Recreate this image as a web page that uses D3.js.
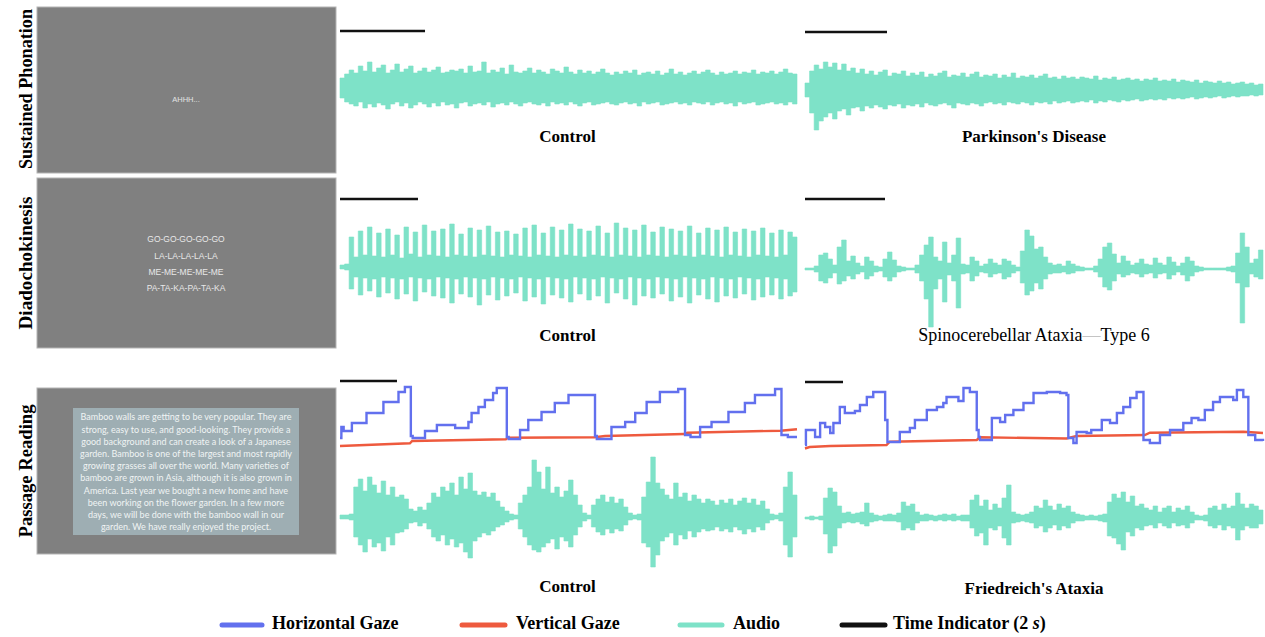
<!DOCTYPE html>
<html><head><meta charset="utf-8">
<script src="https://cdn.jsdelivr.net/npm/d3@7"></script>
<style>body{margin:0;background:#fff}svg{display:block}</style>
</head><body><svg id="c" width="1265" height="637"></svg>
<script>
// ---------------- DATA ----------------
const rowLabels = ["Sustained Phonation", "Diadochokinesis", "Passage Reading"];
const panelTitles = ["Control", "Parkinson's Disease", "Control", "Spinocerebellar Ataxia\u2014Type 6", "Control", "Friedreich's Ataxia"];
const durations = [10.75, 11.17, 11.72, 11.45, 16.04, 24.1]; // seconds shown per panel
const timeIndicator = 2; // seconds
const legendLabels = ["Horizontal Gaze", "Vertical Gaze", "Audio", "Time Indicator (2 s)"];
const phonationPrompt = ["AHHH..."];
const ddkPrompt = ["GO-GO-GO-GO-GO", "LA-LA-LA-LA-LA", "ME-ME-ME-ME-ME", "PA-TA-KA-PA-TA-KA"];
const passageLines = [
  "Bamboo walls are getting to be very popular. They are",
  "strong, easy to use, and good-looking. They provide a",
  "good background and can create a look of a Japanese",
  "garden.  Bamboo is one of the largest and most rapidly",
  "growing grasses all over the world.  Many varieties of",
  "bamboo are grown in Asia, although it is also grown in",
  "America.  Last year we bought a new home and have",
  "been working on the flower garden.  In a few more",
  "days, we will be done with the bamboo wall in our",
  "garden.  We have really enjoyed the project."
];

// audio envelopes (upper / lower amplitude per sample)
const spControlHi = [12,16,20,17,24,19,28,18,22,25,17,20,26,18,21,24,17,19,22,18,20,23,17,18,20,19,21,17,24,18,19,28,17,20,18,22,16,25,18,17,19,22,17,20,18,16,21,19,17,23,18,16,20,17,19,16,18,21,17,15,18,16,19,17,20,15,17,18,16,19,15,17,21,16,18,15,17,19,16,18,20,17,15,18,16,17,19,16,18,17,20,16,18,17,19,16,18,21,17,16];
const spControlLo = [-8,-12,-14,-16,-12,-18,-14,-17,-13,-15,-19,-14,-12,-16,-13,-18,-15,-12,-14,-17,-13,-16,-12,-15,-14,-18,-13,-12,-16,-14,-13,-15,-12,-17,-14,-13,-15,-12,-14,-16,-13,-12,-14,-15,-13,-16,-12,-14,-13,-15,-12,-14,-16,-13,-12,-15,-14,-13,-12,-14,-15,-13,-12,-14,-13,-16,-12,-14,-13,-12,-15,-14,-13,-12,-14,-13,-15,-12,-13,-14,-12,-15,-13,-12,-14,-13,-16,-12,-14,-13,-12,-15,-14,-13,-12,-14,-13,-15,-12,-14];
const spPDHi = [8,20,26,22,29,24,28,21,27,20,23,18,22,17,20,16,19,21,15,18,17,20,15,18,16,19,14,17,15,18,20,14,16,15,18,14,17,19,14,16,15,17,13,16,14,18,13,15,14,16,13,15,17,13,14,12,15,13,14,12,14,13,12,15,11,13,12,14,11,12,13,11,12,10,12,11,13,10,11,10,12,9,11,10,9,11,8,10,9,8,10,8,9,7,8,9,7,8,6,7];
const spPDLo = [-6,-22,-39,-30,-26,-22,-28,-20,-18,-24,-17,-16,-20,-15,-17,-14,-16,-18,-14,-15,-13,-17,-14,-15,-13,-16,-12,-14,-15,-13,-12,-14,-17,-12,-13,-14,-12,-13,-15,-12,-11,-13,-12,-14,-11,-12,-13,-11,-12,-14,-11,-12,-11,-13,-10,-12,-11,-10,-12,-11,-10,-11,-9,-12,-10,-11,-9,-10,-11,-9,-10,-9,-8,-10,-9,-8,-9,-8,-9,-7,-8,-7,-8,-7,-6,-8,-7,-6,-7,-6,-5,-7,-6,-5,-6,-5,-5,-4,-5,-4];
const ddkControlHi = [2,3,30,10,36,12,40,11,34,10,38,12,32,9,40,13,35,10,42,12,36,11,38,10,43,12,33,11,39,10,37,12,41,11,35,10,36,12,33,11,39,10,42,12,34,11,40,10,37,12,43,11,38,10,36,12,41,11,34,10,44,12,39,11,37,10,42,12,35,11,40,10,38,12,36,11,41,10,34,12,39,11,37,10,40,12,35,11,38,10,36,12,39,11,34,10,37,12,35,30];
const ddkControlLo = [-2,-3,-22,-10,-28,-11,-24,-12,-30,-10,-26,-11,-32,-12,-27,-10,-34,-11,-25,-12,-29,-10,-31,-11,-36,-12,-27,-10,-30,-11,-38,-12,-28,-10,-33,-11,-29,-12,-26,-10,-34,-11,-30,-12,-37,-10,-28,-11,-31,-12,-35,-10,-27,-11,-33,-12,-29,-10,-36,-11,-26,-12,-32,-10,-38,-11,-29,-12,-31,-10,-27,-11,-34,-12,-30,-10,-36,-11,-28,-12,-32,-10,-35,-11,-29,-12,-31,-10,-27,-11,-33,-12,-30,-10,-28,-11,-32,-12,-29,-25];
const ddkSCAHi = [1,1,3,14,16,10,4,22,29,8,13,6,3,12,8,3,2,10,17,9,3,2,1,1,4,14,24,32,12,8,27,6,14,31,5,4,12,8,3,5,10,6,4,10,8,4,2,18,39,33,20,22,12,6,4,5,3,8,5,3,2,1,1,3,10,22,26,15,6,13,8,4,6,10,5,4,11,6,4,12,7,3,6,12,8,3,2,1,1,1,1,1,2,3,16,36,22,6,10,19];
const ddkSCALo = [-1,-1,-3,-12,-14,-9,-4,-15,-12,-7,-10,-5,-3,-10,-7,-3,-2,-8,-12,-8,-3,-2,-1,-1,-4,-12,-30,-58,-20,-10,-33,-6,-12,-39,-5,-4,-12,-7,-3,-4,-8,-5,-4,-10,-8,-4,-2,-14,-26,-22,-14,-20,-10,-5,-4,-4,-3,-5,-4,-2,-2,-1,-1,-3,-8,-18,-21,-12,-5,-8,-6,-4,-5,-8,-5,-4,-9,-5,-4,-10,-6,-3,-6,-12,-7,-3,-2,-1,-1,-1,-1,-1,-2,-3,-14,-54,-18,-5,-8,-10];
const prControlHi = [2,2,3,30,38,26,40,32,24,36,22,30,20,22,18,8,6,10,7,14,24,20,30,26,34,22,40,28,44,26,22,25,20,24,16,10,6,3,2,14,22,30,57,45,28,50,24,30,20,26,37,22,12,4,2,12,18,22,15,20,14,18,10,4,2,3,20,35,60,34,28,22,18,34,20,24,16,22,18,14,18,16,12,17,14,18,12,16,19,14,18,12,16,8,3,2,4,30,45,22];
const prControlLo = [-2,-2,-3,-20,-28,-35,-22,-30,-26,-34,-20,-28,-16,-15,-12,-6,-5,-9,-6,-12,-20,-24,-18,-28,-22,-30,-26,-35,-41,-24,-20,-16,-18,-14,-10,-8,-5,-3,-2,-12,-20,-28,-33,-35,-30,-26,-22,-32,-20,-24,-30,-18,-10,-4,-2,-10,-15,-18,-12,-16,-12,-14,-8,-3,-2,-3,-26,-30,-50,-38,-24,-20,-16,-28,-18,-22,-14,-20,-15,-12,-14,-13,-10,-14,-12,-15,-10,-13,-17,-12,-15,-10,-13,-6,-3,-2,-4,-28,-40,-20];
const prFAHi = [1,2,1,2,20,30,26,12,5,6,4,5,6,15,5,3,2,3,4,3,5,16,12,14,6,3,4,3,2,3,4,3,4,2,3,3,18,23,12,18,8,14,10,20,33,6,4,3,4,6,12,10,18,12,8,14,10,12,6,4,3,2,3,2,3,4,16,24,20,26,16,22,12,14,10,8,12,6,10,12,6,10,8,12,6,3,2,3,10,12,8,14,10,12,25,14,10,14,12,8];
const prFALo = [-1,-2,-1,-2,-16,-35,-28,-10,-5,-4,-5,-4,-6,-8,-4,-3,-2,-3,-3,-3,-4,-12,-10,-12,-5,-3,-3,-2,-3,-2,-3,-2,-3,-2,-3,-3,-10,-18,-15,-27,-10,-12,-8,-20,-27,-5,-4,-3,-4,-5,-10,-8,-14,-10,-7,-12,-8,-10,-5,-3,-3,-2,-2,-2,-3,-4,-18,-20,-26,-32,-14,-18,-10,-12,-8,-7,-10,-5,-8,-10,-5,-8,-7,-10,-5,-2,-2,-3,-8,-10,-7,-12,-8,-10,-22,-12,-8,-10,-10,-6];

// gaze traces: [percent of recording, position]
const hGazeControl = [[0,10],[0.3,21],[0.8,17],[2.6,25],[5.8,35],[9.5,46],[12.8,56],[14.2,61],[15.5,12],[15.9,10],[18.6,17],[21.2,23],[25.2,20],[28.1,26],[28.8,35],[30.3,41],[31.7,48],[33.5,55],[34.3,60],[36.5,11],[36.9,9],[39.4,18],[41.2,28],[44.1,36],[47,45],[50,53],[55.8,12],[56.2,9],[59.4,21],[62.4,26],[64.6,35],[67.1,46],[70,56],[74,59],[75.5,13],[76.7,11],[78.8,21],[81.3,26],[85,36],[88.6,45],[90.8,53],[95.2,59],[96.6,13],[98,11],[100,11]];
const vGazeControl = [[0,2],[15.3,4.7],[15.8,7],[36.3,8.7],[36.7,10.3],[55.8,10.7],[58,12],[75.3,14],[76,15.3],[96.4,17.3],[100,18.7]];
const hGazeFA = [[0,5],[0.2,20],[2.2,13],[3.3,27],[4.4,23],[5.5,17],[6.2,27],[7.6,43],[8.7,37],[10.9,39],[12,45],[13.5,53],[14.9,58],[17.5,30],[18,8],[20.7,18],[22.9,22],[24,30],[26.6,40],[28.8,43],[30.2,47],[30.9,53],[33.5,49],[34.6,62],[36,58],[37.5,20],[37.9,13],[38.2,10],[40.8,32],[42.6,28],[43.7,35],[45.5,40],[47.7,47],[49.9,57],[52.8,58],[55.7,57],[57.1,55],[57.5,12],[58.6,7],[59.3,18],[61.5,17],[62.5,20],[64.8,30],[66.6,27],[68.1,37],[69.5,43],[71,52],[72.4,58],[73.9,10],[75.3,7],[77.5,15],[79.7,20],[82.6,27],[84.4,32],[85.9,30],[87.3,40],[89.1,48],[90.6,53],[93.5,50],[94.3,60],[95.7,53],[96.8,15],[98.3,10],[100,9]];
const vGazeFA = [[0,1.5],[1,3],[5.5,4],[17.8,5],[18.5,8.3],[37.5,10],[38.2,12.7],[57.1,11.5],[59.3,14],[74.2,15],[75.3,17.3],[95.7,18.3],[100,17]];

// ---------------- DRAW ----------------
const svg = d3.select("#c");
const serif = "'Liberation Serif','Times New Roman',serif";
const sans = "'Liberation Sans',Arial,sans-serif";
const teal = "#7ee2c8", blue = "#6270ee", red = "#ee5a3e";

// stimulus screens
const stim = [{y0: 7, y1: 173}, {y0: 178, y1: 348}, {y0: 388, y1: 554}];
stim.forEach(s => svg.append("rect").attr("x", 37).attr("y", s.y0).attr("width", 299).attr("height", s.y1 - s.y0)
  .attr("fill", "#808080").attr("stroke", "#b4b4b4").attr("stroke-width", 1));

svg.append("text").attr("x", 186).attr("y", 100).attr("text-anchor", "middle").attr("dominant-baseline", "middle")
  .attr("font-family", sans).attr("font-size", 7.5).attr("fill", "#e4e4e4").text(phonationPrompt[0]);

const ddkY = d3.scalePoint().domain(d3.range(ddkPrompt.length)).range([240, 289]);
ddkPrompt.forEach((t, i) => svg.append("text").attr("x", 186).attr("y", ddkY(i)).attr("text-anchor", "middle")
  .attr("dominant-baseline", "middle").attr("font-family", sans).attr("font-size", 8.5).attr("fill", "#e8e8e8").text(t));

svg.append("rect").attr("x", 73).attr("y", 408).attr("width", 226).attr("height", 127).attr("fill", "#9eaeb3");
const pY = d3.scalePoint().domain(d3.range(passageLines.length)).range([418, 528]);
passageLines.forEach((t, i) => {
  const el = svg.append("text").attr("x", 186).attr("y", pY(i)).attr("text-anchor", "middle").attr("dominant-baseline", "middle")
    .attr("font-family", "Lato,'Open Sans',sans-serif").attr("font-size", 9).attr("fill", "#f0f4f4").text(t);
  const w = el.node().getComputedTextLength();
  if (w > 222) el.attr("textLength", 222).attr("lengthAdjust", "spacingAndGlyphs");
});

// row labels
const labelPos = [{cy: 89, len: 160}, {cy: 263, len: 133}, {cy: 471, len: 133}];
rowLabels.forEach((t, i) => svg.append("text")
  .attr("transform", `translate(25,${labelPos[i].cy}) rotate(-90)`)
  .attr("text-anchor", "middle").attr("dominant-baseline", "central")
  .attr("font-family", serif).attr("font-weight", "bold").attr("font-size", 19)
  .attr("textLength", labelPos[i].len).attr("lengthAdjust", "spacingAndGlyphs").text(t));

// audio panels
const cols = [{x0: 340, x1: 797}, {x0: 805, x1: 1263}];
const panels = [
  {c: 0, cy: 90, barY: 31, titleY: 138, hi: spControlHi, lo: spControlLo, bold: true},
  {c: 1, cy: 91, barY: 32, titleY: 138, hi: spPDHi, lo: spPDLo, bold: true},
  {c: 0, cy: 267, barY: 199, titleY: 337, hi: ddkControlHi, lo: ddkControlLo, bold: true},
  {c: 1, cy: 269, barY: 199, titleY: 337, hi: ddkSCAHi, lo: ddkSCALo, bold: false},
  {c: 0, cy: 517, barY: 381, titleY: 588, hi: prControlHi, lo: prControlLo, bold: true, gaze: [hGazeControl, vGazeControl], gBase: 448},
  {c: 1, cy: 518, barY: 382, titleY: 590, hi: prFAHi, lo: prFALo, bold: true, gaze: [hGazeFA, vGazeFA], gBase: 450}
];

panels.forEach((p, k) => {
  const col = cols[p.c];
  const dur = durations[k];
  const x = d3.scaleLinear().domain([0, dur]).range([col.x0, col.x1]);
  const y = d3.scaleLinear().domain([-60, 60]).range([p.cy + 60, p.cy - 60]);
  const n = p.hi.length;
  const step = dur / n;
  const pts = p.hi.map((h, i) => ({t: i * step, h: h, l: p.lo[i] !== undefined ? p.lo[i] : -h}));
  pts.push({t: dur, h: pts[n - 1].h, l: pts[n - 1].l});
  const area = d3.area().x(d => x(d.t)).y0(d => y(d.l)).y1(d => y(d.h)).curve(d3.curveStepAfter);
  svg.append("path").datum(pts).attr("d", area).attr("fill", teal).attr("stroke", teal).attr("stroke-width", 0.6);

  // time indicator
  svg.append("line").attr("x1", x(0)).attr("x2", x(timeIndicator)).attr("y1", p.barY).attr("y2", p.barY)
    .attr("stroke", "#111").attr("stroke-width", 2.5);

  // gaze
  if (p.gaze) {
    const gy = d3.scaleLinear().domain([0, 60]).range([p.gBase, p.gBase - 60]);
    const xp = t => x(t / 100 * dur);
    const lineH = d3.line().x(d => xp(d[0])).y(d => gy(d[1])).curve(d3.curveStepAfter);
    const lineV = d3.line().x(d => xp(d[0])).y(d => gy(d[1])).curve(d3.curveLinear);
    svg.append("path").datum(p.gaze[1]).attr("d", lineV).attr("fill", "none").attr("stroke", red).attr("stroke-width", 2.4);
    svg.append("path").datum(p.gaze[0]).attr("d", lineH).attr("fill", "none").attr("stroke", blue).attr("stroke-width", 2.4);
  }

  // title
  const cx = (col.x0 + col.x1) / 2 + (p.c === 0 ? -1 : 0);
  const tt = svg.append("text").attr("x", cx).attr("y", p.titleY).attr("text-anchor", "middle").attr("dominant-baseline", "middle")
    .attr("font-family", serif).attr("font-size", p.bold ? 17 : 18).attr("font-weight", p.bold ? "bold" : "normal");
  const title = panelTitles[k];
  if (title.includes("\u2014")) {
    const parts = title.split("\u2014");
    tt.append("tspan").text(parts[0]);
    tt.append("tspan").attr("fill", "#c4c4c4").text("\u2014");
    tt.append("tspan").text(parts[1]);
  } else tt.text(title);
});

// legend
const legColors = [blue, red, teal, "#111"];
const legX = [{l: 222, r: 262, t: 272}, {l: 462, r: 505, t: 516}, {l: 680, r: 722, t: 733}, {l: 842, r: 885, t: 893}];
legendLabels.forEach((lab, i) => {
  const g = svg.append("g");
  g.append("line").attr("x1", legX[i].l).attr("x2", legX[i].r).attr("y1", 625).attr("y2", 625)
    .attr("stroke", legColors[i]).attr("stroke-width", 5).attr("stroke-linecap", "round");
  const t = g.append("text").attr("x", legX[i].t).attr("y", 625).attr("dominant-baseline", "middle")
    .attr("font-family", serif).attr("font-weight", "bold").attr("font-size", 18);
  if (lab.endsWith("s)")) {
    t.append("tspan").text(lab.slice(0, -2));
    t.append("tspan").attr("font-style", "italic").text("s");
    t.append("tspan").text(")");
  } else t.text(lab);
});
</script></body></html>
